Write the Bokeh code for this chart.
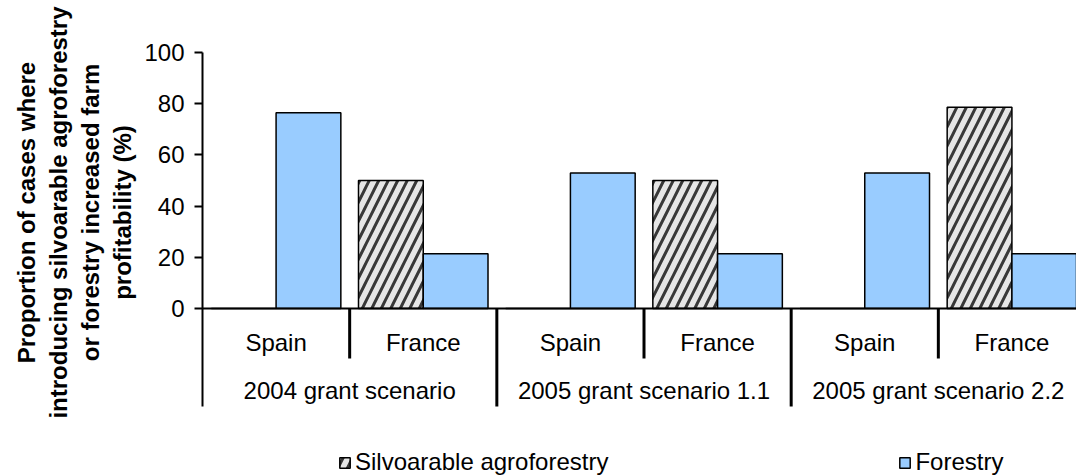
import math
from bokeh.plotting import figure
from bokeh.layouts import row
from bokeh.models import (Range1d, FixedTicker, Span, Legend, LegendItem,
                          ColumnDataSource, Label)
from bokeh.core.properties import value
from bokeh.transform import dodge
from bokeh.embed import file_html
from bokeh.resources import INLINE

# ---- data ----
groups = ["2004 grant scenario", "2005 grant scenario 1.1", "2005 grant scenario 2.2"]
countries = ["Spain", "France"]
silvoarable = [0, 50, 0, 50, 0, 78.6]
forestry = [76.5, 21.4, 52.9, 21.4, 52.9, 21.4]
y_ticks = [0, 20, 40, 60, 80, 100]
series_names = ["Silvoarable agroforestry", "Forestry"]
y_title = "Proportion of cases where\nintroducing silvoarable agroforestry\nor forestry increased farm\nprofitability (%)"

FONT = "Liberation Sans"
FS = "24px"

n_cat = len(groups) * len(countries)
cat_labels = [c for g in groups for c in countries]
cat_x = [i + 0.5 for i in range(n_cat)]

# geometry: y=100 at 52px, y=0 at 308px, category area down to 406px, frame 0..475px
W, H = 1076, 475
TITLE_W = 140
TOP, ZERO, AXIS_END = 52, 308, 406
px_per_unit = (ZERO - TOP) / 100
y_axis_end = -(AXIS_END - ZERO) / px_per_unit
y_frame_bottom = -(H - ZERO) / px_per_unit
y_frame_top = 100 + TOP / px_per_unit

# --- title strip (left) ---
t = figure(width=TITLE_W, height=H, x_range=Range1d(0, 1), y_range=Range1d(0, 1),
           x_axis_type=None, y_axis_type=None, output_backend="svg", toolbar_location=None,
           min_border=0, title_location=None)
t.outline_line_color = None
t.grid.visible = False
t.add_layout(Label(x=74, y=H - (TOP + ZERO) / 2 - 32, x_units="screen", y_units="screen",
                   text=y_title, angle=math.pi / 2, text_align="center", text_baseline="middle",
                   text_font=FONT, text_font_size="24px", text_font_style="bold",
                   text_color="black", text_line_height=1.18))

# --- main chart ---
p = figure(width=W - TITLE_W, height=H,
           x_range=Range1d(0, n_cat - 9 / 147), y_range=Range1d(y_frame_bottom, y_frame_top),
           x_axis_type=None, output_backend="svg", toolbar_location=None,
           min_border_left=202 - TITLE_W, min_border_right=0, min_border_top=0,
           min_border_bottom=0, title_location=None)
p.outline_line_color = None
p.grid.visible = False
p.background_fill_color = "white"
p.border_fill_color = "white"

src = ColumnDataSource(dict(x=cat_x, silvo=silvoarable, forest=forestry, label=cat_labels))

r_silvo = p.vbar(x=dodge("x", -0.22, range=p.x_range), top="silvo", width=0.44, source=src,
                 fill_color="#E6E6E6", line_color="black", line_width=1.5,
                 hatch_pattern="/", hatch_color="#383838", hatch_weight=3, hatch_scale=19)
r_forest = p.vbar(x=dodge("x", 0.22, range=p.x_range), top="forest", width=0.44, source=src,
                  fill_color="#99CCFF", line_color="black", line_width=1.5)

# y axis (ticks)
yax = p.yaxis[0]
yax.ticker = FixedTicker(ticks=y_ticks)
yax.bounds = (y_axis_end, 100)
yax.minor_tick_line_color = None
yax.major_tick_in = 0
yax.major_tick_out = 8
yax.major_tick_line_width = 2
yax.axis_line_width = 2
yax.major_label_text_font = FONT
yax.major_label_text_font_size = FS
yax.major_label_text_color = "black"
yax.major_label_standoff = 10

# x axis line at 0
p.add_layout(Span(location=0, dimension="width", line_color="black", line_width=2))

# separators
inner_len = 50 / px_per_unit
inner_x = [g * len(countries) + k for g in range(len(groups)) for k in range(1, len(countries))]
group_x = [g * len(countries) for g in range(1, len(groups))]
p.segment(x0=inner_x, x1=inner_x, y0=[0] * len(inner_x), y1=[-inner_len] * len(inner_x),
          line_color="black", line_width=3)
p.segment(x0=group_x, x1=group_x, y0=[0] * len(group_x), y1=[y_axis_end] * len(group_x),
          line_color="black", line_width=3)

# category labels
p.text(x="x", y=0, text="label", source=src, y_offset=34,
       text_font=value(FONT), text_font_size=FS, text_align="center",
       text_baseline="middle", text_color="black")
gx = [g * len(countries) + len(countries) / 2 for g in range(len(groups))]
p.text(x=gx, y=[0] * len(groups), text=groups, y_offset=82,
       text_font=value(FONT), text_font_size=FS, text_align="center",
       text_baseline="middle", text_color="black")

legend = Legend(items=[LegendItem(label=series_names[0], renderers=[r_silvo]),
                       LegendItem(label=series_names[1], renderers=[r_forest])],
                location=(136, -1), orientation="horizontal", spacing=290,
                glyph_width=13, glyph_height=13, label_standoff=4, padding=0, margin=0,
                border_line_color=None, background_fill_alpha=0,
                label_text_font=FONT, label_text_font_size=FS, label_text_color="black")
p.add_layout(legend)

layout = row(t, p, spacing=0)
open("out.html", "w").write(file_html(layout, INLINE))
